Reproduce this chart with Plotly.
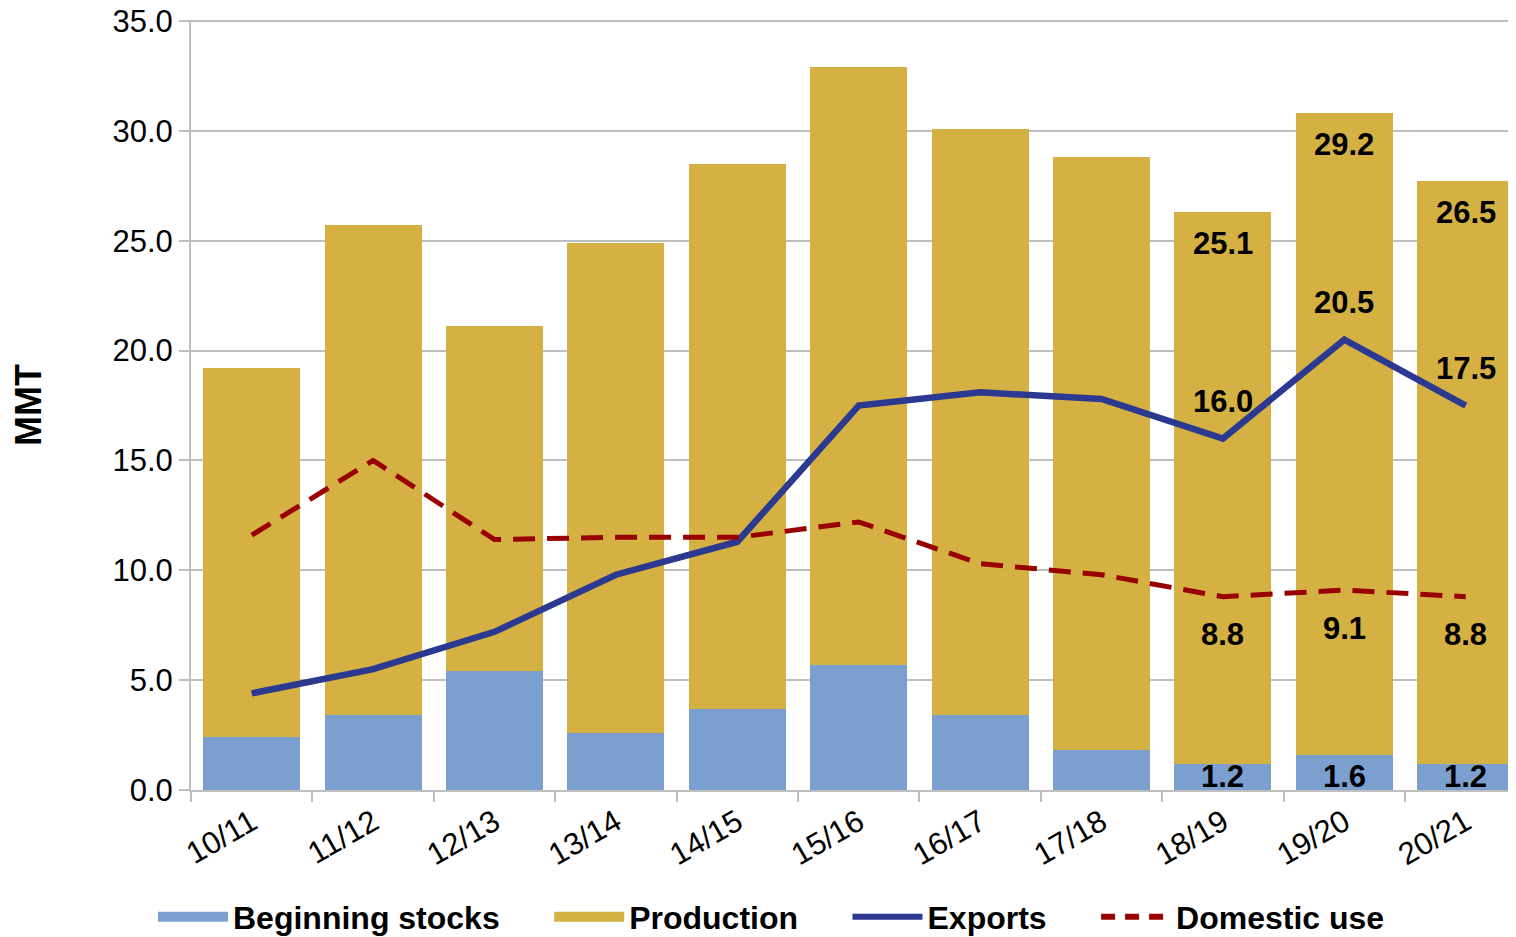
import plotly.graph_objects as go

categories = ["10/11", "11/12", "12/13", "13/14", "14/15", "15/16",
              "16/17", "17/18", "18/19", "19/20", "20/21"]
beginning_stocks = [2.4, 3.4, 5.4, 2.6, 3.7, 5.7, 3.4, 1.8, 1.2, 1.6, 1.2]
production = [16.8, 22.3, 15.7, 22.3, 24.8, 27.2, 26.7, 27.0, 25.1, 29.2, 26.5]
exports = [4.4, 5.5, 7.2, 9.8, 11.3, 17.5, 18.1, 17.8, 16.0, 20.5, 17.5]
domestic_use = [11.6, 15.0, 11.4, 11.5, 11.5, 12.2, 10.3, 9.8, 8.8, 9.1, 8.8]
labelled = ["18/19", "19/20", "20/21"]
y_ticks = [0, 5, 10, 15, 20, 25, 30, 35]

C_STOCK = "#7BA0D0"
C_PROD = "#D4B142"
C_EXP = "#2B3990"
C_DOM = "#990000"
C_GRID = "#BFBFBF"
FONT = "Arial, Liberation Sans, sans-serif"
DOM_DASH = "22px,12px"
PAD = "\u00a0" * 5

fig = go.Figure()
fig.add_trace(go.Bar(x=categories, y=beginning_stocks, name="Beginning stocks",
                     marker=dict(color=C_STOCK, line=dict(width=0)), showlegend=False))
fig.add_trace(go.Bar(x=categories, y=production, name="Production",
                     marker=dict(color=C_PROD, line=dict(width=0)), showlegend=False))
fig.add_trace(go.Scatter(x=categories, y=exports, name="Exports", mode="lines",
                         line=dict(color=C_EXP, width=6.5), showlegend=False))
fig.add_trace(go.Scatter(x=categories, y=domestic_use, name="Domestic use", mode="lines",
                         line=dict(color=C_DOM, width=5, dash=DOM_DASH), showlegend=False))

# legend entries (swatches styled like the original legend)
fig.add_trace(go.Scatter(x=[None], y=[None], mode="lines", name="Beginning stocks" + PAD,
                         line=dict(color=C_STOCK, width=17)))
fig.add_trace(go.Scatter(x=[None], y=[None], mode="lines", name="Production" + PAD,
                         line=dict(color=C_PROD, width=17)))
fig.add_trace(go.Scatter(x=[None], y=[None], mode="lines", name="Exports" + PAD,
                         line=dict(color=C_EXP, width=6)))
fig.add_trace(go.Scatter(x=[None], y=[None], mode="lines", name="Domestic use",
                         line=dict(color=C_DOM, width=6, dash="14px,10px")))

lab_font = dict(family=FONT, size=31, color="black", weight="bold")
for i, c in enumerate(categories):
    if c not in labelled:
        continue
    total = beginning_stocks[i] + production[i]
    fig.add_annotation(x=c, y=total, text=f"{production[i]:.1f}", showarrow=False,
                       yshift=-31, font=lab_font)
    fig.add_annotation(x=c, y=0, text=f"{beginning_stocks[i]:.1f}", showarrow=False,
                       yshift=14, font=lab_font)
    fig.add_annotation(x=c, y=exports[i], text=f"{exports[i]:.1f}", showarrow=False,
                       yshift=37, font=lab_font)
    fig.add_annotation(x=c, y=domestic_use[i], text=f"{domestic_use[i]:.1f}", showarrow=False,
                       yshift=-38, font=lab_font)

fig.update_layout(
    width=1516, height=937,
    barmode="stack", bargap=0.2,
    plot_bgcolor="white", paper_bgcolor="white",
    margin=dict(l=183, r=0, t=12, b=155, autoexpand=False),
    font=dict(family=FONT, size=30, color="black"),
    legend=dict(orientation="h", xref="paper", yref="paper",
                x=-0.0285, xanchor="left", y=-0.165, yanchor="middle",
                font=dict(family=FONT, size=32, color="black", weight="bold"),
                traceorder="normal", itemwidth=70),
    xaxis=dict(type="category", range=[-0.5, 10.48], tickangle=-30,
               tickson="boundaries", ticks="outside", ticklen=10,
               tickcolor=C_GRID, tickwidth=2, automargin=False,
               showline=True, linecolor=C_GRID, linewidth=2,
               showgrid=False, tickfont=dict(size=31)),
    yaxis=dict(range=[0, 35.05], tickvals=y_ticks, tickformat=".1f",
               ticks="outside", ticklen=10, tickcolor=C_GRID, tickwidth=2,
               showline=True, linecolor=C_GRID, linewidth=2,
               showgrid=True, gridcolor=C_GRID, gridwidth=2,
               zeroline=False, automargin=False, ticklabeloverflow="allow",
               title=dict(text="MMT", font=dict(size=36, weight="bold"), standoff=63),
               tickfont=dict(size=31)),
)

fig.write_html("out.html")
